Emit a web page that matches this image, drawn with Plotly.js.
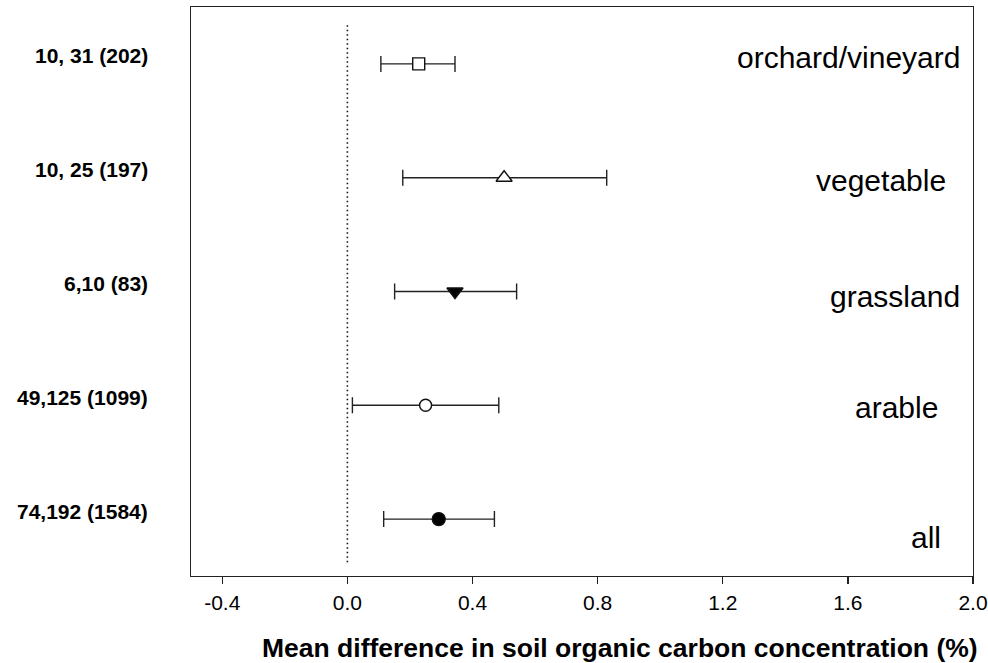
<!DOCTYPE html>
<html>
<head>
<meta charset="utf-8">
<script src="https://cdn.plot.ly/plotly-3.0.1.min.js"></script>
<style>html,body{margin:0;padding:0;background:#fff;}#chart{width:988px;height:663px;}</style>
</head>
<body>
<div id="chart"></div>
<script>
// ---- data (bottom to top) ----
const categories = ["all", "arable", "grassland", "vegetable", "orchard/vineyard"];
const countLabels = ["74,192 (1584)", "49,125 (1099)", "6,10 (83)", "10, 25 (197)", "10, 31 (202)"];
const meanDiff = [0.292, 0.250, 0.344, 0.501, 0.228];
const ciLower  = [0.116, 0.016, 0.151, 0.177, 0.107];
const ciUpper  = [0.470, 0.484, 0.541, 0.829, 0.344];
const xTickVals = [-0.4, 0.0, 0.4, 0.8, 1.2, 1.6, 2.0];
const xTickText = ["-0.4", "0.0", "0.4", "0.8", "1.2", "1.6", "2.0"];
const xTitle = "Mean difference in soil organic carbon concentration (%)";

// ---- styling (not data) ----
const symbols = ["circle", "circle", "triangle-down", "triangle-up", "square"];
const fills   = ["#000", "#fff", "#000", "#fff", "#fff"];
const sizes   = [13, 12, 14, 14, 12];
const catLabelX = [0.962, 0.958, 0.986, 0.968, 0.986];
const catLabelShift = [-18, -2, -5, -3, 6];

const ypos = categories.map((c, i) => i + 1);

const trace = {
  type: "scatter",
  mode: "markers",
  x: meanDiff,
  y: ypos,
  error_x: {
    type: "data",
    symmetric: false,
    array: meanDiff.map((m, i) => ciUpper[i] - m),
    arrayminus: meanDiff.map((m, i) => m - ciLower[i]),
    color: "#222",
    thickness: 1.4,
    width: 8
  },
  marker: {
    symbol: symbols,
    color: fills,
    size: sizes,
    opacity: 1,
    line: { color: "#111", width: 1.4 }
  },
  hoverinfo: "x+y",
  showlegend: false
};

const font = "Liberation Sans, Arial, sans-serif";
const annotations = [];
categories.forEach((c, i) => {
  annotations.push({
    xref: "paper", yref: "y", x: catLabelX[i], y: ypos[i],
    xanchor: "right", yanchor: "middle", yshift: catLabelShift[i],
    text: c, showarrow: false,
    font: { family: font, size: 30, color: "#000" }
  });
  annotations.push({
    xref: "paper", yref: "y", x: -0.053, y: ypos[i],
    xanchor: "right", yanchor: "middle", yshift: 8,
    text: "<b>" + countLabels[i] + "</b>", showarrow: false,
    font: { family: font, size: 21, color: "#000" }
  });
});
annotations.push({
  xref: "paper", yref: "paper", x: 0.548, y: -0.1265,
  xanchor: "center", yanchor: "middle",
  text: "<b>" + xTitle + "</b>", showarrow: false,
  font: { family: font, size: 26.5, color: "#000" }
});

const layout = {
  width: 988, height: 663,
  margin: { l: 191, r: 15, t: 7, b: 87 },
  paper_bgcolor: "#fff", plot_bgcolor: "#fff",
  font: { family: font, color: "#000" },
  xaxis: {
    range: [-0.5, 2.0],
    tickvals: xTickVals, ticktext: xTickText,
    ticks: "outside", ticklen: 7, tickwidth: 1.3, tickcolor: "#222",
    tickfont: { family: font, size: 21, color: "#000" },
    showgrid: false, zeroline: false,
    showline: true, linecolor: "#222", linewidth: 1.3, mirror: true
  },
  yaxis: {
    range: [0.5, 5.5],
    showticklabels: false, ticks: "",
    showgrid: false, zeroline: false,
    showline: true, linecolor: "#222", linewidth: 1.3, mirror: true
  },
  shapes: [{
    type: "line", xref: "x", yref: "y",
    x0: 0, x1: 0, y0: 0.62, y1: 5.36,
    line: { color: "#111", width: 1.6, dash: "1.5px,3px" }
  }],
  annotations: annotations
};

Plotly.newPlot("chart", [trace], layout, { staticPlot: true, displayModeBar: false });
</script>
</body>
</html>
